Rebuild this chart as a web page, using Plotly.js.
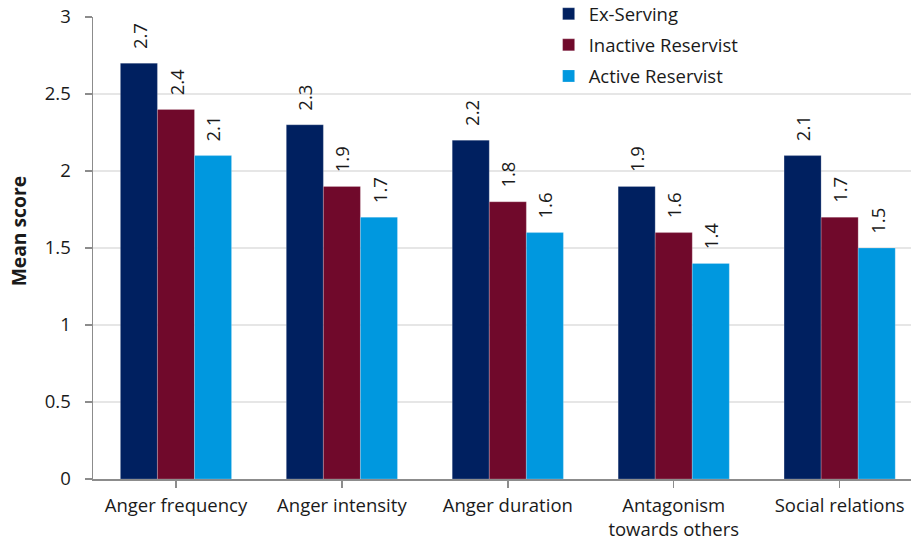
<!DOCTYPE html>
<html>
<head>
<meta charset="utf-8">
<script src="https://cdn.plot.ly/plotly-3.0.1.min.js"></script>
<style>
  html, body { margin: 0; padding: 0; background: #fff; }
  #chart { width: 911px; height: 541px; }
</style>
</head>
<body>
<div id="chart"></div>
<script>
// Mean anger scores by service group
const categories = ["Anger frequency", "Anger intensity", "Anger duration", "Antagonism<br>towards others", "Social relations"];
const seriesNames = ["Ex-Serving", "Inactive Reservist", "Active Reservist"];
const exServing = [2.7, 2.3, 2.2, 1.9, 2.1];
const inactiveReservist = [2.4, 1.9, 1.8, 1.6, 1.7];
const activeReservist = [2.1, 1.7, 1.6, 1.4, 1.5];
const yTicks = [0, 0.5, 1, 1.5, 2, 2.5, 3];
const yTitle = "Mean score";

const seriesValues = [exServing, inactiveReservist, activeReservist];
const colors = ["#002060", "#70092B", "#0098DF"];
const FONT = "'Open Sans', 'Noto Sans', sans-serif";
const TXT = "#1a1a1a";
const FS = 18.5;

const bargap = 0.33;
const barWidth = (1 - bargap) / seriesValues.length;

const traces = seriesValues.map((vals, i) => ({
  type: "bar",
  name: seriesNames[i],
  x: categories.map((c, j) => j),
  y: vals,
  legendgroup: "g" + i,
  marker: { color: colors[i], line: { color: "rgba(255,255,255,0.35)", width: 0.6 } },
  hoverinfo: "skip"
}));

// value labels, rotated, above each bar
const annotations = [];
seriesValues.forEach((vals, i) => {
  const offset = (i - (seriesValues.length - 1) / 2) * barWidth;
  vals.forEach((v, j) => {
    annotations.push({
      x: j + offset, y: v, xref: "x", yref: "y",
      text: v.toFixed(1), showarrow: false, textangle: -90,
      xanchor: "center", yanchor: "bottom", yshift: 12,
      font: { family: FONT, size: 18.5, color: TXT }
    });
  });
});

// y-axis title, placed left of the tick labels
annotations.push({
  xref: "paper", yref: "paper", x: -0.0917, y: 0.536,
  xanchor: "center", yanchor: "middle",
  text: "<b>" + yTitle + "</b>", showarrow: false, textangle: -90,
  font: { family: FONT, size: 19.3, color: TXT }
});

const layout = {
  width: 911, height: 541,
  margin: { l: 93, r: 0, t: 17, b: 62, autoexpand: false },
  paper_bgcolor: "#fff", plot_bgcolor: "#fff",
  barmode: "group", bargap: bargap, bargroupgap: 0,
  font: { family: FONT, size: FS, color: TXT },
  xaxis: {
    range: [-0.5, 4.43],
    tickmode: "array",
    tickvals: categories.map((c, j) => j),
    ticktext: categories,
    ticks: "outside", ticklen: 7, tickcolor: "#8c8c8c", tickwidth: 1.5,
    tickson: "boundaries",
    ticklabelstandoff: 2,
    showline: true, linecolor: "#8c8c8c", linewidth: 1.5,
    showgrid: false, zeroline: false, automargin: false,
    tickfont: { family: FONT, size: FS, color: TXT }
  },
  yaxis: {
    range: [0, 3],
    tickmode: "array", tickvals: yTicks, ticktext: yTicks.map(String),
    ticks: "outside", ticklen: 7, tickcolor: "#8c8c8c", tickwidth: 1.5,
    ticklabelstandoff: 10,
    showline: true, linecolor: "#8c8c8c", linewidth: 1.5,
    showgrid: true, gridcolor: "#e6e6e6", gridwidth: 1.5,
    zeroline: false, automargin: false,
    tickfont: { family: FONT, size: FS, color: TXT }
  },
  showlegend: true,
  legend: {
    x: 0.557, y: 1.047, xanchor: "left", yanchor: "top",
    bgcolor: "rgba(0,0,0,0)", tracegroupgap: 4,
    itemwidth: 30,
    font: { family: FONT, size: FS, color: TXT }
  },
  annotations: annotations
};

Plotly.newPlot("chart", traces, layout, { displayModeBar: false, staticPlot: true });
</script>
</body>
</html>
